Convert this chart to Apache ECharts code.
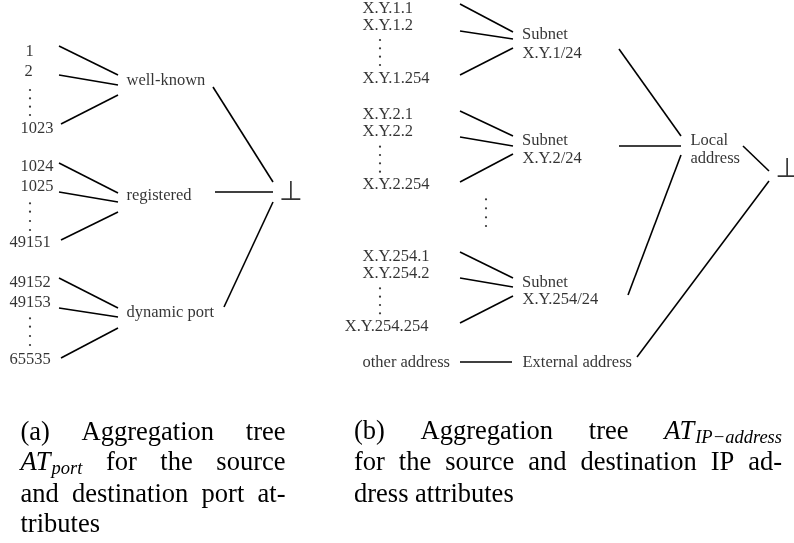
<!DOCTYPE html>
<html>
<head>
<meta charset="utf-8">
<script src="https://cdn.jsdelivr.net/npm/echarts@6/dist/echarts.min.js"></script>
<style>
html,body{margin:0;padding:0;background:#fff;}
#chart{width:794px;height:543px;}
</style>
</head>
<body>
<div id="chart"></div>
<script>
// (a) port tree labels: [text, left x, middle y]
var portLabels = [
  ['1', 25.5, 51.5], ['2', 24.5, 71.5], ['1023', 20.5, 129],
  ['1024', 20.5, 166.7], ['1025', 20.5, 187], ['49151', 9.5, 243],
  ['49152', 9.5, 283], ['49153', 9.5, 303], ['65535', 9.5, 360],
  ['well-known', 126.5, 81], ['registered', 126.5, 195.5], ['dynamic port', 126.5, 312.5]
];
// (b) ip tree labels
var ipLabels = [
  ['X.Y.1.1', 362.5, 9], ['X.Y.1.2', 362.5, 25.7], ['X.Y.1.254', 362.5, 79],
  ['Subnet', 522, 34.3], ['X.Y.1/24', 522.5, 53.3],
  ['X.Y.2.1', 362.5, 115], ['X.Y.2.2', 362.5, 131.7], ['X.Y.2.254', 362.5, 185],
  ['Subnet', 522, 141], ['X.Y.2/24', 522.5, 159],
  ['X.Y.254.1', 362.5, 256.7], ['X.Y.254.2', 362.5, 273.3], ['X.Y.254.254', 344.8, 326.7],
  ['Subnet', 522, 282.7], ['X.Y.254/24', 522.5, 300],
  ['other address', 362.5, 362.3], ['External address', 522.5, 362.3],
  ['Local', 690.5, 140.8], ['address', 690.5, 158.3]
];
// roots
var rootLabels = [['⊥', 291, 192.7], ['⊥', 787.3, 169.5]];
// vertical ellipsis dots
var dots = [
  [30, 90], [30, 98.3], [30, 106.7], [30, 115],
  [30, 203.3], [30, 211.7], [30, 221], [30, 230],
  [30, 318.3], [30, 326.7], [30, 336], [30, 345],
  [380, 40], [380, 48.3], [380, 56.7], [380, 65],
  [380, 146.7], [380, 155], [380, 163.3], [380, 171.7],
  [380, 288.3], [380, 296.7], [380, 305], [380, 313.3],
  [486, 199.3], [486, 208.3], [486, 217.3], [486, 226]
];
// edges [x1, y1, x2, y2]
var edges = [
  [59, 46, 118, 75], [59, 75, 118, 85], [61, 124, 118, 95],
  [59, 163, 118, 193], [59, 192, 118, 202], [61, 240, 118, 212],
  [59, 278, 118, 308], [59, 308, 118, 317], [61, 358, 118, 328],
  [213, 87, 273, 182], [215, 192, 273, 192], [224, 307, 273, 202],
  [460, 4, 513, 32], [460, 31, 513, 39], [460, 75, 513, 48],
  [460, 111, 513, 136], [460, 137, 513, 146], [460, 182, 513, 154],
  [460, 252, 513, 278], [460, 278, 513, 287], [460, 323, 513, 296],
  [460, 362, 512, 362],
  [619, 49, 681, 136], [619, 146, 681, 146], [628, 295, 681, 155],
  [743, 146, 769, 171], [637, 357, 769, 181]
];

var SERIF = '"Liberation Serif", "Times New Roman", serif';
var CAP = 26.5, SUB = 18.5;

// captions: words per line, object words are math AT with subscript
var captionA = [
  {y: 433, words: ['(a)', 'Aggregation', 'tree'], justify: true},
  {y: 463, words: [{it: 'AT', sub: 'port'}, 'for', 'the', 'source'], justify: true},
  {y: 495, words: ['and', 'destination', 'port', 'at-'], justify: true},
  {y: 525, words: ['tributes'], justify: false}
];
var captionB = [
  {y: 432, words: ['(b)', 'Aggregation', 'tree', {it: 'AT', sub: 'IP\u2212address'}], justify: true},
  {y: 463, words: ['for', 'the', 'source', 'and', 'destination', 'IP', 'ad-'], justify: true},
  {y: 495, words: ['dress', 'attributes'], justify: false}
];

var ctx = document.createElement('canvas').getContext('2d');
function measure(w) {
  if (typeof w === 'string') {
    ctx.font = CAP + 'px ' + SERIF;
    return ctx.measureText(w).width;
  }
  ctx.font = 'italic ' + CAP + 'px ' + SERIF;
  var a = ctx.measureText(w.it).width;
  ctx.font = 'italic ' + SUB + 'px ' + SERIF;
  return a + ctx.measureText(w.sub).width + 1;
}

function captionGraphics(lines, x0, x1) {
  var out = [];
  ctx.font = CAP + 'px ' + SERIF;
  var space = ctx.measureText(' ').width;
  lines.forEach(function (ln) {
    var ws = ln.words.map(measure);
    var total = ws.reduce(function (s, v) { return s + v; }, 0);
    var gap = (ln.justify && ln.words.length > 1) ? (x1 - x0 - total) / (ln.words.length - 1) : space;
    var x = x0;
    ln.words.forEach(function (w, i) {
      var style = {
        x: 0, y: 0, fill: '#000', fontFamily: SERIF, fontSize: CAP,
        align: 'left', verticalAlign: 'middle'
      };
      if (typeof w === 'string') {
        style.text = w;
      } else {
        style.text = '{it|' + w.it + '}{sub|' + w.sub + '}';
        style.rich = {
          it: {fontFamily: SERIF, fontSize: CAP, fontStyle: 'italic', lineHeight: 27},
          sub: {fontFamily: SERIF, fontSize: SUB, fontStyle: 'italic', padding: [13, 0, 0, 1], lineHeight: 19}
        };
      }
      out.push({type: 'text', x: x, y: ln.y, silent: true, style: style});
      x += ws[i] + gap;
    });
  });
  return out;
}

function toPoints(arr) {
  return arr.map(function (d) { return {name: d[0], value: [d[1], d[2]]}; });
}

var myChart = echarts.init(document.getElementById('chart'));
myChart.setOption({
  backgroundColor: '#fff',
  animation: false,
  grid: {left: 0, right: 0, top: 0, bottom: 0},
  xAxis: {type: 'value', min: 0, max: 794, show: false},
  yAxis: {type: 'value', min: 0, max: 543, inverse: true, show: false},
  graphic: captionGraphics(captionA, 20.5, 285.5).concat(captionGraphics(captionB, 354, 782)),
  series: [
    {
      type: 'lines',
      coordinateSystem: 'cartesian2d',
      silent: true,
      lineStyle: {color: '#000', width: 1.6, opacity: 1},
      data: edges.map(function (e) { return {coords: [[e[0], e[1]], [e[2], e[3]]]}; })
    },
    {
      type: 'scatter',
      silent: true,
      clip: false,
      symbolSize: 0,
      label: {
        show: true, position: 'right', distance: 0, formatter: '{b}',
        color: '#000', fontFamily: SERIF, fontSize: 16.5
      },
      data: toPoints(portLabels.concat(ipLabels))
    },
    {
      type: 'scatter',
      silent: true,
      clip: false,
      symbolSize: 0,
      label: {
        show: true, position: 'inside', formatter: '{b}',
        color: '#000', fontFamily: '"DejaVu Sans"', fontSize: 27
      },
      data: toPoints(rootLabels)
    },
    {
      type: 'scatter',
      silent: true,
      symbol: 'circle',
      symbolSize: 2.2,
      itemStyle: {color: '#000'},
      data: dots
    }
  ]
});
</script>
</body>
</html>
